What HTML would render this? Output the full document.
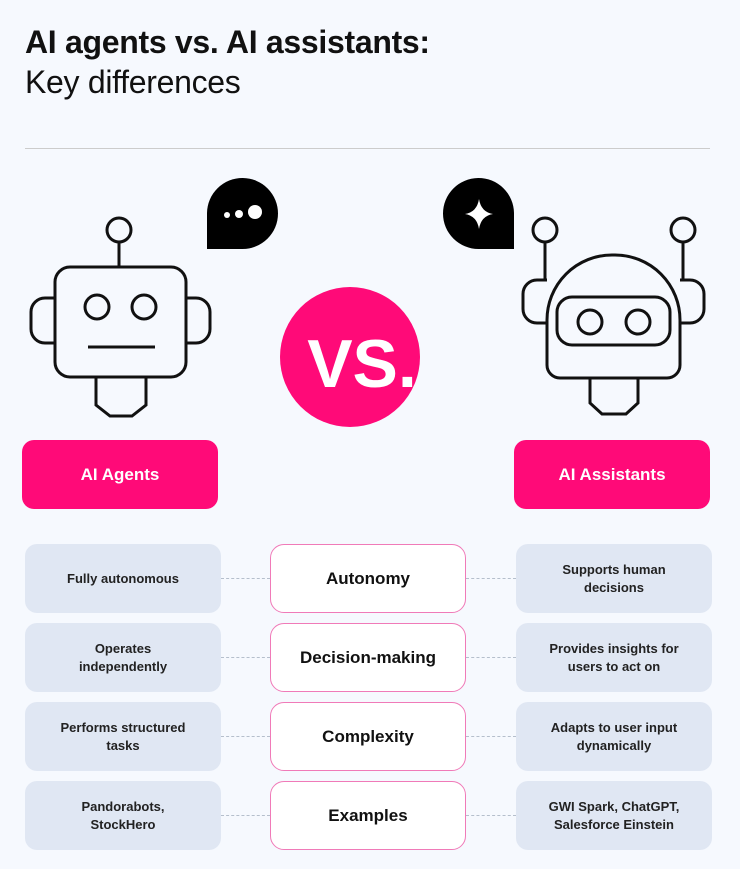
<!DOCTYPE html>
<html><head><style>
body{margin:0;width:740px;height:869px;background:#f6f9fe;font-family:"Liberation Sans",sans-serif;position:relative;overflow:hidden}
.t{position:absolute;left:25px;font-size:32px;color:#111;letter-spacing:-0.3px}
.b{position:absolute;display:flex;align-items:center;justify-content:center;text-align:center;box-sizing:border-box}
.g{background:#e0e7f3;border-radius:12px;font-size:13px;font-weight:bold;color:#222;line-height:18px;width:196px;height:69px}
.c{background:#fff;border:1.5px solid #f07ab8;border-radius:14px;font-size:17px;font-weight:bold;color:#111;width:196px;height:69px;left:270px}
.p{background:#ff0a78;color:#fff;border-radius:12px;font-size:17px;font-weight:bold;width:196px;height:69px;top:440px}
.d{position:absolute;border-top:1.5px dashed #b5bfcc;height:0}
</style></head><body>
<div class="t" style="top:24px;font-weight:bold">AI agents vs. AI assistants:</div>
<div class="t" style="top:64px">Key differences</div>
<div style="position:absolute;left:25px;top:148px;width:685px;height:1px;background:#ccc"></div>
<svg width="740" height="440" style="position:absolute;left:0;top:0" fill="none" stroke="#111" stroke-width="3">
<circle cx="119" cy="230" r="12"/><line x1="119" y1="242" x2="119" y2="267"/>
<rect x="55" y="267" width="131" height="110" rx="15"/>
<path d="M55 298 H45 a14 14 0 0 0 -14 14 v17 a14 14 0 0 0 14 14 H55"/>
<path d="M186 298 H196 a14 14 0 0 1 14 14 v17 a14 14 0 0 1 -14 14 H186"/>
<circle cx="97" cy="307" r="12"/><circle cx="144" cy="307" r="12"/>
<line x1="88" y1="347" x2="155" y2="347"/>
<path d="M96 377 v28 l14 11 h22 l14 -11 v-28"/>
<path d="M207 249 V213 a35.5 35.5 0 1 1 35.5 36 Z" fill="#000" stroke="none"/>
<circle cx="227" cy="215" r="3" fill="#fff" stroke="none"/><circle cx="239" cy="214" r="4" fill="#fff" stroke="none"/><circle cx="255" cy="212" r="7" fill="#fff" stroke="none"/>
<circle cx="350" cy="357" r="70" fill="#ff0a78" stroke="none"/>
<text x="362" y="387" text-anchor="middle" font-family="Liberation Sans" font-weight="bold" font-size="68" fill="#fff" stroke="none">VS.</text>
<path d="M514 249 V213 a35.5 35.5 0 1 0 -35.5 36 Z" fill="#000" stroke="none"/>
<path d="M479 199 Q481 212 493 214 Q481 216 479 229 Q477 216 465 214 Q477 212 479 199Z" fill="#fff" stroke="none"/>
<circle cx="545" cy="230" r="12"/><circle cx="683" cy="230" r="12"/>
<line x1="545" y1="242" x2="545" y2="280"/><line x1="683" y1="242" x2="683" y2="280"/>
<path d="M547 365 V320 a65 65 0 0 1 65 -65 h3 a65 65 0 0 1 65 65 V365 a13 13 0 0 1 -13 13 H560 a13 13 0 0 1 -13 -13Z"/>
<path d="M547 280 H537 a14 14 0 0 0 -14 14 v15 a14 14 0 0 0 14 14 H547"/>
<path d="M680 280 H690 a14 14 0 0 1 14 14 v15 a14 14 0 0 1 -14 14 H680"/>
<rect x="557" y="297" width="113" height="48" rx="15"/>
<circle cx="590" cy="322" r="12"/><circle cx="638" cy="322" r="12"/>
<path d="M590 378 v25 l12 11 h24 l12 -11 v-25"/>
</svg>
<div class="b p" style="left:22px">AI Agents</div>
<div class="b p" style="left:514px">AI Assistants</div>

<div class="d" style="left:221px;width:49px;top:578px"></div><div class="d" style="left:466px;width:50px;top:578px"></div>
<div class="d" style="left:221px;width:49px;top:657px"></div><div class="d" style="left:466px;width:50px;top:657px"></div>
<div class="d" style="left:221px;width:49px;top:736px"></div><div class="d" style="left:466px;width:50px;top:736px"></div>
<div class="d" style="left:221px;width:49px;top:815px"></div><div class="d" style="left:466px;width:50px;top:815px"></div>

<div class="b g" style="left:25px;top:544px">Fully autonomous</div>
<div class="b c" style="top:544px">Autonomy</div>
<div class="b g" style="left:516px;top:544px">Supports human<br>decisions</div>
<div class="b g" style="left:25px;top:623px">Operates<br>independently</div>
<div class="b c" style="top:623px">Decision-making</div>
<div class="b g" style="left:516px;top:623px">Provides insights for<br>users to act on</div>
<div class="b g" style="left:25px;top:702px">Performs structured<br>tasks</div>
<div class="b c" style="top:702px">Complexity</div>
<div class="b g" style="left:516px;top:702px">Adapts to user input<br>dynamically</div>
<div class="b g" style="left:25px;top:781px">Pandorabots,<br>StockHero</div>
<div class="b c" style="top:781px">Examples</div>
<div class="b g" style="left:516px;top:781px">GWI Spark, ChatGPT,<br>Salesforce Einstein</div>
</body></html>
